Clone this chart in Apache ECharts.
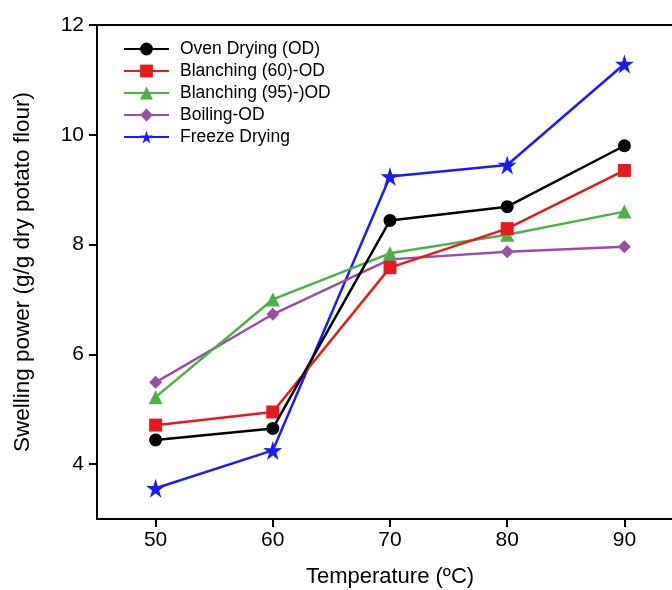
<!DOCTYPE html>
<html><head><meta charset="utf-8">
<script src="https://cdn.jsdelivr.net/npm/echarts@6/dist/echarts.min.js"></script>
<style>html,body{margin:0;padding:0;background:#fff}#c{width:672px;height:590px}</style>
</head><body><div id="c"></div>
<script>
const temps = [50, 60, 70, 80, 90];
const seriesNames = ['Oven Drying (OD)', 'Blanching (60)-OD', 'Blanching (95)-)OD', 'Boiling-OD', 'Freeze Drying'];
const ovenDrying = [4.44, 4.65, 8.44, 8.69, 9.80];
const blanching60 = [4.71, 4.95, 7.58, 8.29, 9.35];
const blanching95 = [5.22, 7.00, 7.84, 8.18, 8.60];
const boiling = [5.49, 6.73, 7.73, 7.87, 7.96];
const freezeDrying = [3.56, 4.25, 9.24, 9.45, 11.29];
const yTicks = [4, 6, 8, 10, 12];
const xTicks = [50, 60, 70, 80, 90];

const colors = ['#000000', '#e8191e', '#4daf4a', '#984ea3', '#1a1aff'];
const symbols = ['circle', 'rect', 'triangle', 'diamond', 'path://M50,0 L61.2,35.5 L98.5,35.3 L68.2,57.3 L79.4,92.7 L50,70.8 L20.6,92.7 L31.8,57.3 L1.5,35.3 L38.8,35.5 Z'];
const sizes = [13, 13, 14, 13, 19];
const allData = [ovenDrying, blanching60, blanching95, boiling, freezeDrying];
const font = 'Liberation Sans, Arial, Helvetica, sans-serif';

const chart = echarts.init(document.getElementById('c'));
chart.setOption({
  animation: false,
  backgroundColor: '#fff',
  grid: {left: 97, top: 25, width: 586, height: 494, show: true, borderColor: '#000', borderWidth: 2, outerBoundsMode: 'none'},
  legend: {
    left: 118, top: 35, orient: 'vertical', itemWidth: 45, itemHeight: 16, itemGap: 4,
    textStyle: {fontFamily: font, fontSize: 17.5, color: '#000', padding: [0, 0, 0, 6]},
    data: seriesNames
  },
  xAxis: {
    type: 'value', min: 45, max: 95,
    name: 'Temperature (ºC)', nameLocation: 'middle', nameGap: 47,
    nameTextStyle: {fontFamily: font, fontSize: 22, color: '#000'},
    axisLine: {lineStyle: {color: '#000', width: 2}},
    axisTick: {show: true, length: 8, lineStyle: {color: '#000', width: 2}, customValues: xTicks},
    axisLabel: {fontFamily: font, fontSize: 21, color: '#000', margin: 11, customValues: xTicks},
    splitLine: {show: false}
  },
  yAxis: {
    type: 'value', min: 3, max: 12,
    name: 'Swelling power (g/g dry potato flour)', nameLocation: 'middle', nameGap: 63,
    nameTextStyle: {fontFamily: font, fontSize: 22.5, color: '#000'},
    axisLine: {show: true, lineStyle: {color: '#000', width: 2}},
    axisTick: {show: true, length: 8, lineStyle: {color: '#000', width: 2}, customValues: yTicks},
    axisLabel: {fontFamily: font, fontSize: 21, color: '#000', margin: 13, customValues: yTicks},
    splitLine: {show: false}
  },
  series: allData.map((d, i) => ({
    name: seriesNames[i], type: 'line',
    data: d.map((v, j) => [temps[j], v]),
    symbol: symbols[i], symbolSize: sizes[i],
    lineStyle: {color: colors[i], width: 2.5},
    itemStyle: {color: colors[i]},
    z: 10 - i
  }))
});
</script></body></html>
